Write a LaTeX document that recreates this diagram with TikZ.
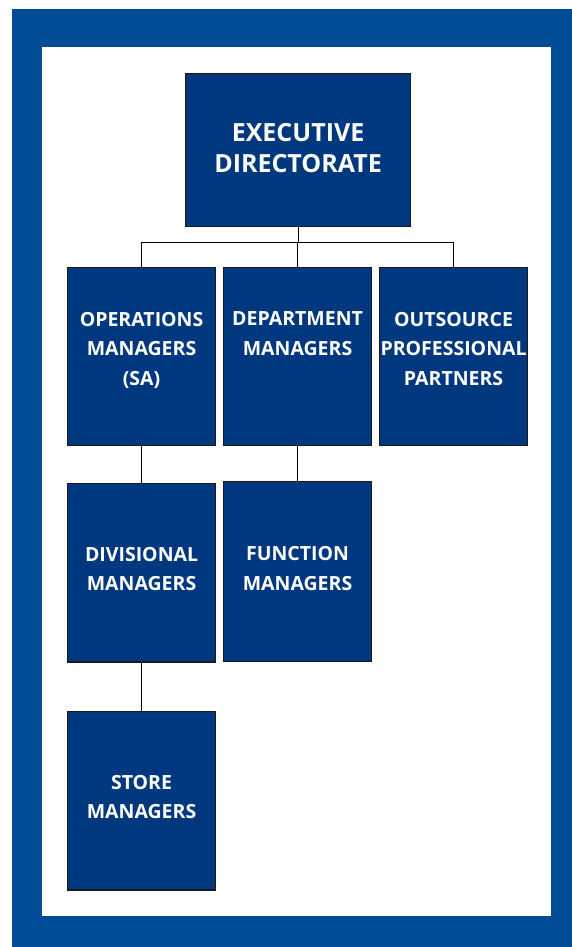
\documentclass[tikz,border=0pt]{standalone}
\usepackage{fontspec}
\setmainfont{Open Sans}
\definecolor{frameblue}{HTML}{004C97}
\definecolor{boxblue}{HTML}{003880}
\definecolor{boxedge}{HTML}{1A1A1A}
\begin{document}
\begin{tikzpicture}[x=1pt,y=1pt,
  orgbox/.style={draw=boxedge, line width=1.1pt, fill=boxblue, text=white,
    align=center, inner sep=0pt, anchor=north west, minimum width=148pt,
    font=\bfseries\fontsize{19.5}{29.5}\selectfont},
  threelines/.style={text height=117.5pt, text depth=60.5pt},
  twolines/.style={text height=87.5pt, text depth=90.5pt},
  lowlines/.style={text height=107pt, text depth=71.5pt},
  link/.style={draw=black, line width=1pt}]
  \useasboundingbox (0,0) rectangle (572,947);
  % frame
  \fill[frameblue] (12,0) rectangle (572,938);
  \fill[white] (42,31) rectangle (551,900);
  % top level
  \node[orgbox, minimum width=225pt, text height=99pt, text depth=54pt,
    font=\bfseries\fontsize{25}{31}\selectfont] (exec) at (185,874)
    {EXECUTIVE\\DIRECTORATE};
  % second level
  \node[orgbox, threelines] (ops) at (67,680) {OPERATIONS\\MANAGERS\\(SA)};
  \node[orgbox, twolines] (dept) at (223,680) {DEPARTMENT\\MANAGERS};
  \node[orgbox, threelines] (outs) at (379,680) {OUTSOURCE\\PROFESSIONAL\\PARTNERS};
  % third level
  \node[orgbox, lowlines] (div) at (67,464) {DIVISIONAL\\MANAGERS};
  \node[orgbox, lowlines, text height=108.5pt] (func) at (223,466) {FUNCTION\\MANAGERS};
  % fourth level
  \node[orgbox, lowlines] (store) at (67,236) {STORE\\MANAGERS};
  % connectors
  \coordinate (bus) at (297.5,704.3);
  \draw[link] (exec.south) -- (exec.south |- bus);
  \draw[link] (ops.north) -- (ops.north |- bus) -- (outs.north |- bus) -- (outs.north);
  \draw[link] (dept.north) -- (dept.north |- bus);
  \draw[link] (ops.south) -- (div.north);
  \draw[link] (div.south) -- (store.north);
  \draw[link] (dept.south) -- (func.north);
\end{tikzpicture}
\end{document}
